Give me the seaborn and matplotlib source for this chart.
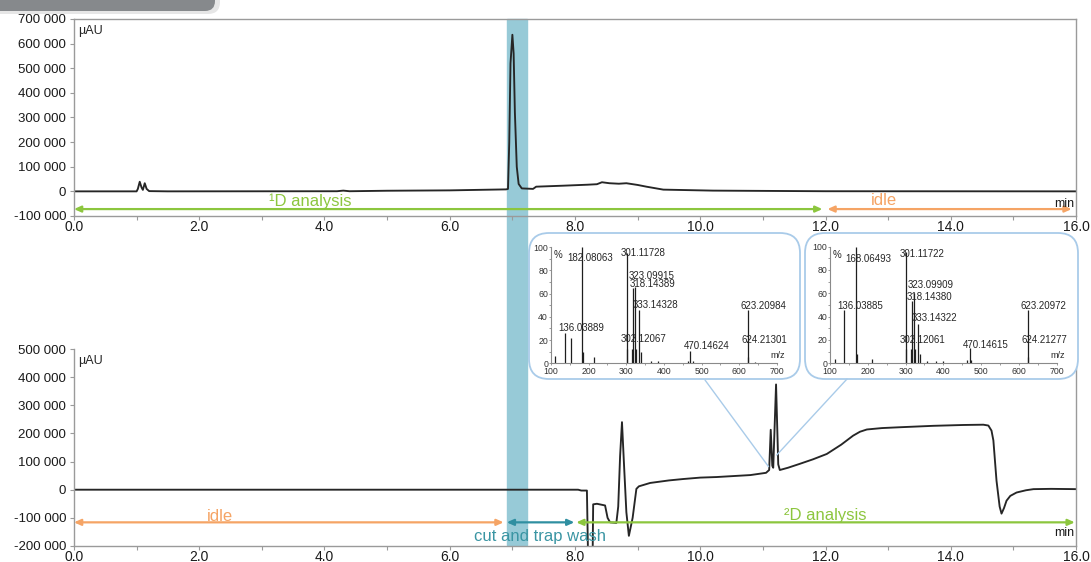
import matplotlib
matplotlib.use('Agg')
import matplotlib.pyplot as plt
import seaborn as sns
from matplotlib.patches import Rectangle, FancyBboxPatch, ConnectionPatch
from matplotlib.transforms import blended_transform_factory
from matplotlib.ticker import FuncFormatter, MultipleLocator

# 1D chromatogram (min, µAU)
t1 = [0.0, 1.0, 1.02, 1.05, 1.08, 1.10, 1.13, 1.16, 1.2, 1.5, 4.2, 4.3, 4.4, 5.0, 6.0, 6.9,
      6.93, 6.95, 6.97, 7.0, 7.02, 7.04, 7.07, 7.1, 7.15, 7.33, 7.38, 7.81, 8.2, 8.35, 8.43,
      8.55, 8.7, 8.82, 9.0, 9.14, 9.41, 10.2, 11.27, 12.0, 16.0]
s1 = [0, 0, 10000, 39000, 15000, 6000, 33000, 10000, 1000, 0, 500, 3000, 500, 2500, 4000, 8000,
      10000, 200000, 520000, 636000, 560000, 320000, 100000, 30000, 12000, 10000, 19000, 23000,
      27000, 29000, 37000, 33000, 31000, 33000, 26000, 19000, 7000, 3000, 1500, 500, 0]

# 2D chromatogram (min, µAU)
t2 = [0.0, 8.05, 8.10, 8.19, 8.21, 8.28, 8.29, 8.35, 8.48, 8.52, 8.56, 8.66, 8.69, 8.72, 8.75,
      8.78, 8.82, 8.86, 8.92, 8.98, 9.02, 9.2, 9.5, 9.73, 10.0, 10.26, 10.8, 11.05, 11.10,
      11.125, 11.15, 11.165, 11.21, 11.245, 11.27, 11.4, 11.59, 11.8, 12.02, 12.25, 12.44,
      12.55, 12.66, 12.9, 13.19, 13.72, 14.2, 14.52, 14.6, 14.65, 14.68, 14.73, 14.78, 14.81,
      14.85, 14.89, 14.95, 15.05, 15.2, 15.32, 15.6, 16.0]
s2 = [0, 0, -3000, -3000, -260000, -260000, -52000, -50000, -56000, -100000, -116000, -118000,
      -60000, 120000, 240000, 100000, -80000, -164000, -100000, 3000, 12000, 24000, 33000, 38000,
      43000, 45000, 52000, 60000, 70000, 213000, 85000, 78000, 374000, 90000, 70000, 78000,
      92000, 108000, 127000, 160000, 192000, 206000, 214000, 219000, 222000, 227000, 230000,
      231000, 228000, 210000, 175000, 32000, -60000, -85000, -65000, -39000, -22000, -10000,
      -2000, 2000, 3000, 2000]

# MS spectrum at first peak (m/z, %)
mz_a = [110, 136.04, 152, 182.08, 186, 215, 301.12, 302.12, 316, 318.14, 323.10, 326, 333.14,
        338, 365, 385, 465, 470.15, 478, 623.21, 624.21, 642]
in_a = [6, 26, 22, 100, 10, 5, 95, 12, 12, 65, 66, 12, 46, 10, 2, 2, 2, 11, 2, 46, 5, 1]
lab_a = ['182.08063', '301.11728', '323.09915', '318.14389', '333.14328', '136.03889',
         '302.12067', '470.14624', '623.20984', '624.21301']
pos_a = [(205, 90.5), (345, 95), (368, 75.6), (370, 68), (378, 50), (181.5, 30), (347, 20.7),
         (514, 15), (664, 49), (668, 20)]

# MS spectrum at second peak (m/z, %)
mz_b = [113, 136.04, 168.06, 171, 211, 301.12, 302.12, 315, 318.14, 323.10, 326, 333.14, 338,
        357, 380, 400, 463, 470.15, 474, 623.21, 625]
in_b = [4, 46, 100, 8, 4, 95, 12, 12, 53, 60, 12, 34, 8, 2, 2, 2, 3, 13, 3, 46, 5]
lab_b = ['168.06493', '301.11722', '323.09909', '318.14380', '136.03885', '333.14322',
         '302.12061', '470.14615', '623.20972', '624.21277']
pos_b = [(202, 89), (345, 94), (366, 67), (362, 57), (181, 49), (376, 38.6), (345, 20),
         (511.5, 16), (665, 49), (666, 20)]

green = '#8cc63e'
orange = '#f5a465'
teal = '#2f8fa1'
box_col = '#a9cbe9'

sns.set_style('white')
plt.rcParams['font.family'] = ['Liberation Sans', 'DejaVu Sans']

fig = plt.figure(figsize=(10.91, 5.62), dpi=100)
ax1 = fig.add_axes([0.0678, 0.6157, 0.9185, 0.3505])
ax2 = fig.add_axes([0.0678, 0.0285, 0.9185, 0.3505])

yfmt = FuncFormatter(lambda v, p: f'{v:,.0f}'.replace(',', ' '))
xfmt = FuncFormatter(lambda v, p: f'{v:.1f}')

for ax, t, s, ylo, yhi in [(ax1, t1, s1, -100000, 700000), (ax2, t2, s2, -200000, 500000)]:
    sns.lineplot(x=t, y=s, ax=ax, color='#262626', lw=1.35, estimator=None, sort=False)
    ax.set_facecolor('none')
    ax.set_xlim(0, 16)
    ax.set_ylim(ylo, yhi)
    ax.set_xlabel('')
    ax.set_ylabel('')
    ax.xaxis.set_major_locator(MultipleLocator(2))
    ax.xaxis.set_minor_locator(MultipleLocator(1))
    ax.yaxis.set_major_locator(MultipleLocator(100000))
    ax.xaxis.set_major_formatter(xfmt)
    ax.yaxis.set_major_formatter(yfmt)
    ax.tick_params(axis='both', which='both', direction='out', color='#9a9a9a', length=3,
                   width=0.8, labelcolor='#1a1a1a')
    ax.tick_params(axis='x', which='major', labelsize=10, pad=0)
    ax.tick_params(axis='y', labelsize=9.5, pad=2.5)
    ax.tick_params(left=True, bottom=True)
    ax.tick_params(axis='x', which='minor', bottom=True)
    for sp in ax.spines.values():
        sp.set_color('#9a9a9a')
        sp.set_linewidth(1.0)
    ax.text(0.004, 0.94, 'µAU', transform=ax.transAxes, fontsize=9, va='center', ha='left')
ax2.spines['top'].set_visible(False)


def phase(ax, label, x0, x1, y, color, tx, ty):
    ax.annotate('', xy=(x1, y), xytext=(x0, y), annotation_clip=False,
                arrowprops=dict(arrowstyle='<|-|>,head_length=0.4,head_width=0.18',
                                color=color, lw=1.6, shrinkA=0, shrinkB=0))
    ax.text(tx, ty, label, color=color, fontsize=12, ha='center', va='center')


phase(ax1, '¹D analysis', 0.0, 11.95, -72000, green, 3.77, -42000)
phase(ax1, 'idle', 12.03, 15.93, -72000, orange, 12.94, -36000)
ax1.text(15.97, -52000, 'min', fontsize=9, ha='right', va='center', color='#1a1a1a')

phase(ax2, 'idle', 0.0, 6.86, -116000, orange, 2.33, -94000)
phase(ax2, 'cut and trap wash', 6.91, 7.99, -116000, teal, 7.44, -165000)
ax2.texts[-1].set_color('#3a95a3')
phase(ax2, '²D analysis', 8.02, 15.98, -116000, green, 11.99, -90000)
ax2.text(15.97, -155000, 'min', fontsize=9, ha='right', va='center', color='#1a1a1a')

# heart-cut band spanning both chromatograms
band = Rectangle((6.92, 1 - 545 / 562), 0.31, 526 / 562,
                 transform=blended_transform_factory(ax1.transData, fig.transFigure),
                 color='#97cad7', zorder=-1)
fig.add_artist(band)

# grey banner with soft shadow in the corner (behind the axes texts)
fig.add_artist(FancyBboxPatch((-0.3, 5.48), 2.5, 0.5, boxstyle='round,pad=0,rounding_size=0.12',
                              transform=fig.dpi_scale_trans, fc='#e6e6e6', ec='none', zorder=-2))
fig.add_artist(FancyBboxPatch((-0.3, 5.51), 2.45, 0.5, boxstyle='round,pad=0,rounding_size=0.1',
                              transform=fig.dpi_scale_trans, fc='#86898c', ec='none', zorder=-2))

# inset frames
for x0, x1 in [(5.29, 8.00), (8.05, 10.78)]:
    fig.add_artist(FancyBboxPatch((x0, 5.62 - 3.79), x1 - x0, 1.46,
                                  boxstyle='round,pad=0,rounding_size=0.2',
                                  transform=fig.dpi_scale_trans, fc='white', ec=box_col,
                                  lw=1.3, zorder=0.5))

for start, end in [((7.05, 5.62 - 3.80), (11.09, 82000)), ((8.47, 5.62 - 3.79), (11.22, 123000))]:
    fig.add_artist(ConnectionPatch(xyA=start, coordsA=fig.dpi_scale_trans, xyB=end,
                                   coordsB=ax2.transData, color=box_col, lw=1.0, zorder=0.6))

# mass spectra insets
for rect, mz, inten, labs, pos in [([0.505, 0.3536, 0.207, 0.2064], mz_a, in_a, lab_a, pos_a),
                                   ([0.7608, 0.3536, 0.2078, 0.2075], mz_b, in_b, lab_b, pos_b)]:
    ins = fig.add_axes(rect)
    ins.set_zorder(2)
    ins.set_facecolor('none')
    ins.vlines(mz, 0, inten, color='#1e1e1e', lw=0.9)
    ins.set_xlim(100, 700)
    ins.set_ylim(0, 100)
    ins.xaxis.set_major_locator(MultipleLocator(100))
    ins.xaxis.set_minor_locator(MultipleLocator(50))
    ins.yaxis.set_major_locator(MultipleLocator(20))
    ins.yaxis.set_minor_locator(MultipleLocator(10))
    ins.tick_params(axis='both', which='both', direction='out', length=1.5, width=0.6,
                    color='#8a8a8a', labelsize=6.3, labelcolor='#333333',
                    left=True, bottom=True)
    ins.tick_params(axis='x', pad=1.2)
    ins.tick_params(axis='y', pad=0.6)
    for sp in ['top', 'right']:
        ins.spines[sp].set_visible(False)
    for sp in ['left', 'bottom']:
        ins.spines[sp].set_color('#8a8a8a')
        ins.spines[sp].set_linewidth(0.8)
    for lab, (x, y) in zip(labs, pos):
        ins.text(x, y, lab, fontsize=7, ha='center', va='center', color='#262626')
    ins.text(106, 93, '%', fontsize=7, ha='left', va='center', color='#262626')
    ins.text(702, 3, 'm/z', fontsize=6.5, ha='center', va='bottom', color='#262626')

fig.savefig('out.png', dpi=100)
